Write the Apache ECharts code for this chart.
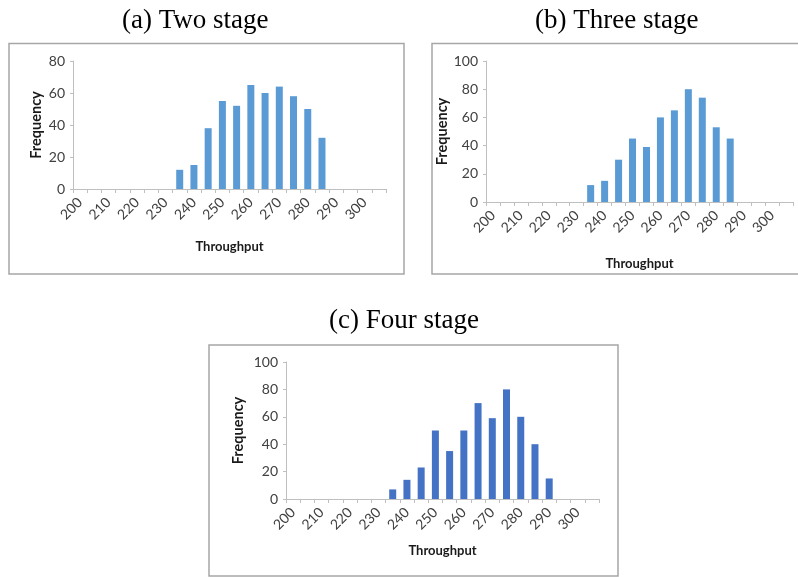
<!DOCTYPE html>
<html><head><meta charset="utf-8">
<script src="https://cdn.jsdelivr.net/npm/echarts@6/dist/echarts.min.js"></script>
<style>html,body{margin:0;padding:0;background:#fff}#c{width:798px;height:577px}</style>
</head><body><div id="c"></div>
<script>
// Throughput bins (every other bin labelled)
const categories = ['200','205','210','215','220','225','230','235','240','245','250','255','260','265','270','275','280','285','290','295','300','305'];
const twoStage   = [0,0,0,0,0,0,0,12,15,38,55,52,65,60,64,58,50,32,0,0,0,0];
const threeStage = [0,0,0,0,0,0,0,12,15,30,45,39,60,65,80,74,53,45,0,0,0,0];
const fourStage  = [0,0,0,0,0,0,0,7,14,23,50,35,50,70,59,80,60,40,15,0,0,0];
const titles = ['(a) Two stage','(b) Three stage','(c) Four stage'];
const yMax = [80,100,100];

const chart = echarts.init(document.getElementById('c'), null, {renderer:'canvas'});
const grids = [
  {left:73, top:61, width:313, height:128},
  {left:486, top:61, width:307, height:141},
  {left:286, top:362, width:313, height:137}
];
const yNameGap = [29,33,40];
const xNameGap = [51,55,45];
const colors = ['#5B9BD5','#5B9BD5','#4472C4'];
const series = [twoStage, threeStage, fourStage];
const fontSans = 'Lato, "Open Sans", sans-serif';

const xAxes = [], yAxes = [], ser = [];
for (let i=0;i<3;i++){
  xAxes.push({
    type:'category', gridIndex:i, data:categories, boundaryGap:true,
    name:'Throughput', nameLocation:'middle', nameGap:xNameGap[i],
    nameTextStyle:{fontFamily:fontSans, fontWeight:'bold', fontSize:13, color:'#1a1a1a'},
    axisLine:{show:true, lineStyle:{color:'#bfbfbf', width:1}},
    axisTick:{show:true, interval:0, length:4, lineStyle:{color:'#bfbfbf'}},
    axisLabel:{interval:1, rotate:45, fontFamily:fontSans, fontSize:14, color:'#404040', margin:11},
    splitLine:{show:false}
  });
  yAxes.push({
    type:'value', gridIndex:i, min:0, max:yMax[i], interval:20,
    name:'Frequency', nameLocation:'middle', nameRotate:90, nameGap:yNameGap[i],
    nameTextStyle:{fontFamily:fontSans, fontWeight:'bold', fontSize:14.5, color:'#1a1a1a'},
    axisLine:{show:true, lineStyle:{color:'#bfbfbf', width:1}},
    axisTick:{show:true, length:3, lineStyle:{color:'#bfbfbf'}},
    axisLabel:{fontFamily:fontSans, fontSize:14, color:'#404040', margin:8},
    splitLine:{show:false}
  });
  ser.push({
    type:'bar', xAxisIndex:i, yAxisIndex:i, data:series[i], barWidth:7,
    itemStyle:{color:colors[i]}, silent:true
  });
}

const titlePos = [[207,18],[620,18],[414,318]];
chart.setOption({
  animation:false,
  backgroundColor:'#fff',
  title: titles.map((t,i)=>({text:t, left:titlePos[i][0]-90, top:titlePos[i][1]-16, width:180,
      textAlign:'left',
      textStyle:{fontFamily:'"Liberation Serif", serif', fontWeight:'normal', fontSize:27, color:'#000'}})),
  graphic:[
    {type:'rect', shape:{x:9, y:43.5, width:395, height:230.5}, style:{fill:'none', stroke:'#a6a6a6', lineWidth:1.5}},
    {type:'rect', shape:{x:432, y:43.5, width:380, height:230.5}, style:{fill:'none', stroke:'#a6a6a6', lineWidth:1.5}},
    {type:'rect', shape:{x:209, y:345, width:409, height:231}, style:{fill:'none', stroke:'#a6a6a6', lineWidth:1.5}}
  ],
  grid:grids,
  xAxis:xAxes,
  yAxis:yAxes,
  series:ser
});
</script>
</body></html>
